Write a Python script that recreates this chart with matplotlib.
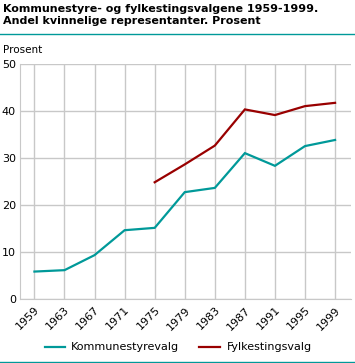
import matplotlib
matplotlib.use("Agg")
import matplotlib.pyplot as plt
from matplotlib.lines import Line2D

years = ["1959", "1963", "1967", "1971", "1975", "1979", "1983", "1987", "1991", "1995", "1999"]
kommune = [5.9, 6.2, 9.4, 14.7, 15.2, 22.8, 23.7, 31.1, 28.4, 32.6, 33.9]
fylke_years = ["1975", "1979", "1983", "1987", "1991", "1995", "1999"]
fylke = [24.9, 28.7, 32.7, 40.4, 39.2, 41.1, 41.8]
yticks = [0, 10, 20, 30, 40, 50]

teal = "#009999"
red = "#990000"
grid = "#c8c8c8"

W, H = 355, 363
fig = plt.figure(figsize=(W / 100, H / 100), dpi=100)
ax = fig.add_axes([20 / W, 1 - 299.3 / H, (351 - 20) / W, (299.3 - 64.3) / H])

xk = list(range(len(years)))
xf = [years.index(y) for y in fylke_years]
ax.plot(xk, kommune, color=teal, lw=1.6, solid_joinstyle="miter")
ax.plot(xf, fylke, color=red, lw=1.6, solid_joinstyle="miter")

ax.set_xlim(-0.48, 10.53)
ax.set_ylim(0, 50)
ax.set_yticks(yticks)
ax.set_xticks(xk)
ax.set_xticklabels(years, rotation=45, ha="right", rotation_mode="anchor")
ax.grid(True, color=grid, lw=1.0)
ax.set_axisbelow(True)
for s in ["top", "right"]:
    ax.spines[s].set_visible(False)
for s in ["left", "bottom"]:
    ax.spines[s].set_color(grid)
ax.tick_params(axis="both", length=0, labelsize=8, colors="black", pad=3)
ax.tick_params(axis="x", pad=4)

fig.text(3 / W, 1 - 4 / H, "Kommunestyre- og fylkestingsvalgene 1959-1999.\nAndel kvinnelige representanter. Prosent",
         fontsize=8, fontweight="bold", va="top", ha="left", linespacing=1.2)
fig.add_artist(Line2D([0, 1], [1 - 33.5 / H, 1 - 33.5 / H], color=teal, lw=1.0, transform=fig.transFigure))
fig.add_artist(Line2D([0, 1], [1 - 361.5 / H, 1 - 361.5 / H], color=teal, lw=1.0, transform=fig.transFigure))
fig.text(3 / W, 1 - 50 / H, "Prosent", fontsize=7.5, va="center", ha="left")

ly = 1 - 347 / H
fig.add_artist(Line2D([45 / W, 65 / W], [ly, ly], color=teal, lw=1.6, transform=fig.transFigure))
fig.text(71 / W, ly, "Kommunestyrevalg", fontsize=8, va="center", ha="left")
fig.add_artist(Line2D([199 / W, 220 / W], [ly, ly], color=red, lw=1.6, transform=fig.transFigure))
fig.text(227 / W, ly, "Fylkestingsvalg", fontsize=8, va="center", ha="left")

fig.savefig("out.png", dpi=100)
